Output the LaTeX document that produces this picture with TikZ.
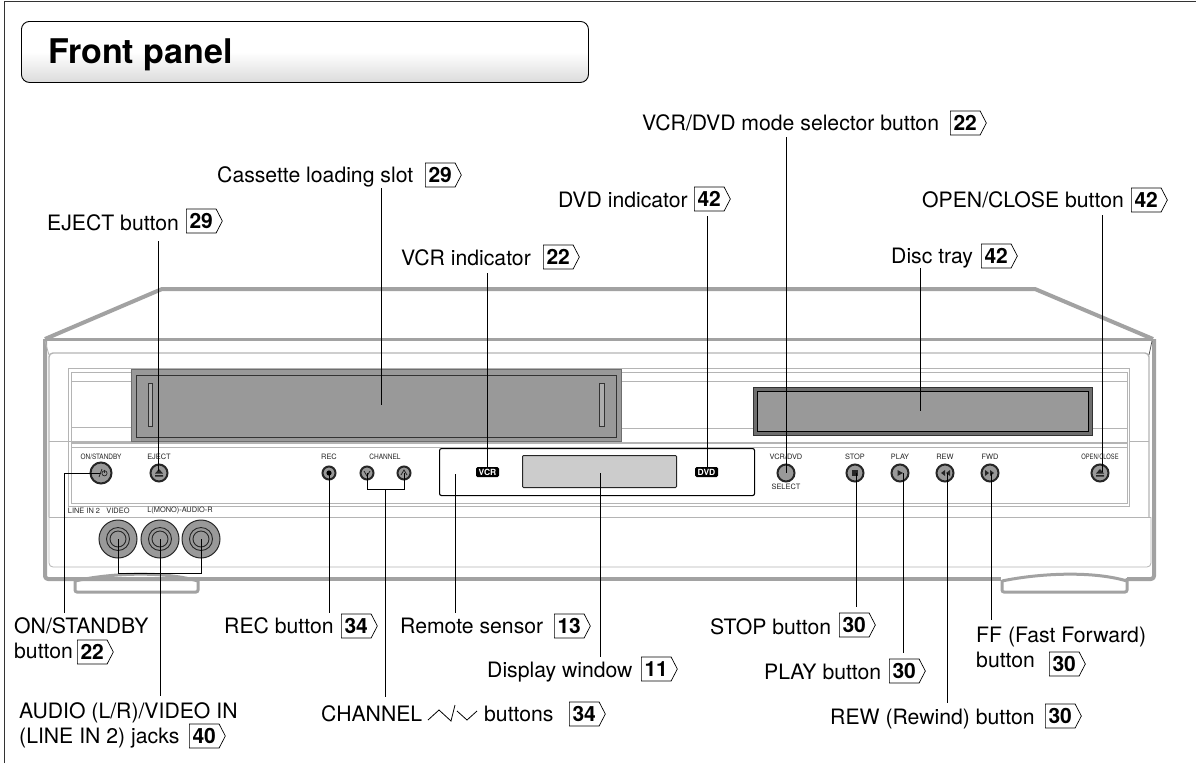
\documentclass[tikz,border=0pt]{standalone}
\usepackage{fontspec}
\setmainfont{TeX Gyre Heros}
\usetikzlibrary{shapes.symbols,calc}
\definecolor{bodyg}{HTML}{A2A2A2}
\definecolor{thing}{HTML}{B4B4B4}
\definecolor{panelg}{HTML}{999999}
\definecolor{darkg}{HTML}{6E6E6E}
\tikzset{
 lbl/.style={anchor=base west,inner sep=0pt,font=\fontsize{21.2}{24}\selectfont},
 pgb/.style={shape=signal,signal to=east,signal from=nowhere,signal pointer angle=125,draw=black,line width=.7pt,fill=white,
   minimum width=36pt,minimum height=24pt,inner sep=0pt,anchor=west,font=\fontsize{21}{24}\selectfont\bfseries},
 lead/.style={draw=black,line width=1pt},
 outline/.style={draw=bodyg,line width=4pt,line join=round},
 thinl/.style={draw=thing,line width=.8pt},
 midl/.style={draw=thing,line width=1.4pt},
 btn/.style={circle,draw=black!85,line width=2pt,fill=panelg,inner sep=0pt,minimum size=17pt},
 tiny/.style={inner sep=0pt,font=\fontsize{7.4}{9}\selectfont,text=black!85},
 badge/.style={fill=black,rounded corners=1.5pt,text=white,inner sep=0pt,minimum width=23pt,minimum height=10pt,font=\fontsize{8.5}{9}\selectfont\bfseries},
 jack/.style={circle,draw=black!85,line width=1pt,fill=panelg,inner sep=0pt,minimum size=38pt},
 ring/.style={draw=black!85,line width=.9pt},
 glyph/.style={fill=black!85,draw=none},
}
\begin{document}
\begin{tikzpicture}[x=1pt,y=-1pt]
\useasboundingbox (0,0) rectangle (1196,763);
\fill[white] (0,0) rectangle (1196,763);
% page frame
\draw[black!80,line width=1pt] (4,763) -- (4,1) -- (1196,1);
% title
\node[draw=black,line width=.9pt,rounded corners=8pt,minimum width=567pt,minimum height=61pt,anchor=north west,
  top color=white,bottom color=black!14,middle color=white,inner sep=0pt] (titlebox) at (21,21) {};
\node[anchor=base west,inner sep=0pt,font=\fontsize{34}{36}\selectfont\bfseries] (title) at (48,63) {Front panel};
% body outline
\draw[outline] (45,339) -- (162,289) -- (1035,289) -- (1153,339);
\draw[draw=bodyg,line width=3pt] (45,339) -- (1153,339);
\draw[outline,rounded corners=3pt] (45,339) -- (45,579) -- (198,579);
\draw[outline,rounded corners=3pt] (198,579) -- (1001,579);
\draw[outline,rounded corners=3pt] (1127,579) -- (1154,579) -- (1154,339);
% feet
\draw[draw=bodyg,line width=3pt,rounded corners=2pt] (75,580) -- (75,592) -- (198,592) -- (198,578);
\draw[draw=bodyg,line width=3pt] (75,581) .. controls (105,574) and (160,570) .. (198,581);
\draw[draw=bodyg,line width=3pt,rounded corners=2pt] (1002,580) -- (1002,592) -- (1127,592) -- (1127,578);
\draw[draw=bodyg,line width=3pt] (1002,581) .. controls (1035,574) and (1090,570) .. (1127,581);
% inner panel outlines
\draw[midl,rounded corners=4pt] (49,517) -- (49,353) -- (1149,353) -- (1149,517);
\draw[thinl] (45,341) -- (49,355);
\draw[black!70,line width=.7pt] (1152,341) -- (1149,355);
\draw[thinl,rounded corners=4pt] (49,517) -- (49,567) -- (1151,567) -- (1151,517);
\draw[thinl] (49,517) -- (1151,517);
% inner frame
\draw[thinl] (68,368) rectangle (1129,506);
\draw[thinl] (71,372) rectangle (1127,503);
\draw[thinl] (71,381) -- (131,381) (71,427) -- (131,427) (49,441) -- (131,441);
\draw[thinl] (621,381) -- (1127,381) (621,428) -- (753,428) (1092,428) -- (1127,428) (1129,441) -- (1149,441);
\draw[thinl] (621,372) -- (753,372);
\draw[midl] (71,443) -- (1127,443);
\draw[thinl] (71,447) -- (1127,447);
% cassette slot
\node[draw=darkg,fill=panelg,line width=1pt,minimum width=490pt,minimum height=72pt,anchor=north west,inner sep=0pt] (slotouter) at (131,369) {};
\node[draw=black!80,fill=panelg,line width=1pt,minimum width=480pt,minimum height=62pt,anchor=north west,inner sep=0pt] (slot) at (136,375) {};
\draw[draw=black!80,fill=panelg!80,line width=.8pt] (148,383) rectangle (152,426);
\draw[draw=black!80,fill=panelg!80,line width=.8pt] (599,383) rectangle (604,426);
% disc tray
\node[draw=black!80,fill=darkg,line width=1pt,minimum width=339pt,minimum height=48pt,anchor=north west,inner sep=0pt] (trayouter) at (753,387) {};
\node[draw=black,fill=panelg,line width=1.2pt,minimum width=331pt,minimum height=40pt,anchor=north west,inner sep=0pt] (tray) at (757,391) {};
% display
\node[draw=black,fill=white,line width=1.1pt,rounded corners=2pt,minimum width=315pt,minimum height=47pt,anchor=north west,inner sep=0pt] (dispbox) at (439,448) {};
\node[draw=black!85,fill=black!20,line width=1pt,rounded corners=1pt,minimum width=154pt,minimum height=32pt,anchor=north west,inner sep=0pt] (window) at (522,455) {};
\node[badge] (vcr) at (487.5,472) {VCR};
\node[badge] (dvd) at (706.5,472) {DVD};
% buttons
\node[btn,minimum size=21pt] (onb) at (101,473) {};
\node[btn] (ejb) at (159,473) {};
\node[btn,minimum size=13pt] (recb) at (329,473) {};
\node[btn,minimum size=13pt] (chd) at (367,473) {};
\node[btn,minimum size=13pt] (chu) at (404,473) {};
\node[btn] (selb) at (786,473) {};
\node[btn] (stopb) at (855,473) {};
\node[btn] (playb) at (900,473) {};
\node[btn] (rewb) at (945,473) {};
\node[btn] (fwdb) at (990,473) {};
\node[btn] (openb) at (1100,473) {};
% button glyphs
\fill[glyph] (159,469) -- (163,473.5) -- (155,473.5) -- cycle (155,475) rectangle (163,476.5);
\fill[glyph] (1100,469) -- (1104,473.5) -- (1096,473.5) -- cycle (1096,475) rectangle (1104,476.5);
\fill[black] (329,473) circle (2.6pt);
\draw[black!85,line width=.8pt] (364,471) -- (367,476) -- (370,471);
\draw[black!85,line width=.8pt] (401,475) -- (404,470) -- (407,475);
\fill[glyph] (852,470) rectangle (858,476);
\fill[glyph] (897.5,470) -- (903,473) -- (897.5,476) -- cycle;
\fill[glyph] (945,470) -- (945,476) -- (941,473) -- cycle (950,470) -- (950,476) -- (946,473) -- cycle;
\fill[glyph] (985,470) -- (985,476) -- (989,473) -- cycle (990,470) -- (990,476) -- (994,473) -- cycle;
% small panel texts
\node[tiny] (tonb) at (101,457) {\scalebox{.87}[1]{ON/STANDBY}};
\node[tiny] (tejb) at (159,457) {EJECT};
\node[tiny] (trec) at (329,457) {REC};
\node[tiny] (tch) at (385,457) {\scalebox{.88}[1]{CHANNEL}};
\node[tiny] (tsel) at (786,457) {VCR/DVD};
\node[tiny] (tsel2) at (786,487) {SELECT};
\node[tiny] (tstop) at (855,457) {STOP};
\node[tiny] (tplay) at (900,457) {PLAY};
\node[tiny] (trew) at (945,457) {REW};
\node[tiny] (tfwd) at (990,457) {FWD};
\node[tiny] (topen) at (1100,457) {\scalebox{.78}[1]{OPEN/CLOSE}};
\node[tiny] (tline) at (84,511) {LINE IN 2};
\node[tiny] (tvid) at (118,511) {VIDEO};
\node[tiny] (taud) at (180,511) {L(MONO)-AUDIO-R};
% jacks
\foreach \n/\x in {jv/118,jl/160,jr/201}{
  \node[jack] (\n) at (\x,539) {};
  \draw[ring] (\x,539) circle (11.5pt);
  \draw[ring] (\x,539) circle (8pt);
}
% labels
\node[lbl] (lsel) at (642,130) {VCR/DVD mode selector button};
\node[pgb] (psel) at (950,123) {22};
\node[lbl] (lslot) at (217,182) {Cassette loading slot};
\node[pgb] (pslot) at (425,175) {29};
\node[lbl] (ldvd) at (558,207) {DVD indicator};
\node[pgb] (pdvd) at (694,199) {42};
\node[lbl] (lej) at (47,230) {EJECT button};
\node[pgb] (pej) at (186,221) {29};
\node[lbl] (lopen) at (922,207.5) {OPEN/CLOSE button};
\node[pgb] (popen) at (1131,200) {42};
\node[lbl] (lvcr) at (401,265) {VCR indicator};
\node[pgb] (pvcr) at (543,257) {22};
\node[lbl] (ltray) at (891,263) {Disc tray};
\node[pgb] (ptray) at (981,256) {42};
\node[lbl] (lon) at (14,633) {ON/STANDBY};
\node[lbl] (lon2) at (14,658) {button};
\node[pgb] (pon) at (77,652) {22};
\node[lbl] (lrec) at (224,633) {REC button};
\node[pgb] (prec) at (341,626) {34};
\node[lbl] (lrem) at (400,633) {Remote sensor};
\node[pgb] (prem) at (554,626) {13};
\node[lbl] (lwin) at (487,677) {Display window};
\node[pgb] (pwin) at (641,669) {11};
\node[lbl] (lstop) at (710,634) {STOP button};
\node[pgb] (pstop) at (839,625) {30};
\node[lbl] (lplay) at (764,679) {PLAY button};
\node[pgb] (pplay) at (889,671) {30};
\node[lbl] (lff) at (976,642) {FF (Fast Forward)};
\node[lbl] (lff2) at (976,667) {button};
\node[pgb] (pff) at (1049,664) {30};
\node[lbl] (lrew) at (830,724) {REW (Rewind) button};
\node[pgb] (prew) at (1045,716) {30};
\node[lbl] (laud) at (19,718) {AUDIO (L/R)/VIDEO IN};
\node[lbl] (laud2) at (19,743) {(LINE IN 2) jacks};
\node[pgb] (paud) at (189,736) {40};
\node[lbl] (lch) at (321,721) {CHANNEL};
\draw[black,line width=.8pt] (428,720) -- (439,710) -- (451,721) -- (455,705) (457,711) -- (467,720) -- (477,711);
\node[lbl] (lch2) at (484,721) {buttons};
\node[pgb] (pch) at (569,714) {34};
% connector ends
\coordinate (eEj) at (158,241);
\coordinate (eSlotT) at (381,188);
\coordinate (eSlotB) at (381,405);
\coordinate (eVcrT) at (487,273);
\coordinate (eDvdT) at (707,216);
\coordinate (eSelT) at (786,137);
\coordinate (eTrayT) at (920,268);
\coordinate (eTrayB) at (920,411);
\coordinate (eOpenT) at (1102,215);
\coordinate (eOnB) at (64,613);
\coordinate (eRec) at (329,613);
\coordinate (eChB) at (385,697);
\coordinate (eRemT) at (455,474);
\coordinate (eRemB) at (455,613);
\coordinate (eWinT) at (600,473);
\coordinate (eWinB) at (600,657);
\coordinate (eStop) at (856,607);
\coordinate (ePlay) at (903,653);
\coordinate (eRew) at (947,703);
\coordinate (eFf) at (991,620);
\coordinate (eAud) at (160,696);
% connectors
\draw[lead] (eEj) -- (158,471);
\draw[lead] (eSlotT) -- (eSlotB);
\draw[lead] (eVcrT) -- (vcr.north -| eVcrT);
\draw[lead] (eDvdT) -- (dvd.north -| eDvdT);
\draw[lead] (eSelT) -- (selb.center);
\draw[lead] (eTrayT) -- (eTrayB);
\draw[lead] (eOpenT) -- (1102,472);
\draw[lead] (onb.center) -- (64,473) -- (eOnB);
\draw[lead] (recb.center) -- (eRec);
\draw[lead] (chd.center) -- (367,489) -- (404,489) -- (chu.center);
\draw[lead] (385,489) -- (eChB);
\draw[lead] (eRemT) -- (eRemB);
\draw[lead] (eWinT) -- (eWinB);
\draw[lead] (856,473) -- (eStop);
\draw[lead] (903,473) -- (ePlay);
\draw[lead] (947,473) -- (eRew);
\draw[lead] (991,473) -- (eFf);
\draw[lead] (jv.center) -- (118,573) -- (201,573) -- (jr.center);
\draw[lead] (jl.center) -- (eAud);
% power glyph, over its connector
\draw[black!85,line width=.8pt] (99,477) -- (102,469);
\draw[black!85,line width=.7pt] (104.5,473.3) circle (2.6pt);
\draw[black!85,line width=.7pt] (104.5,469.5) -- (104.5,473);
\end{tikzpicture}
\end{document}
